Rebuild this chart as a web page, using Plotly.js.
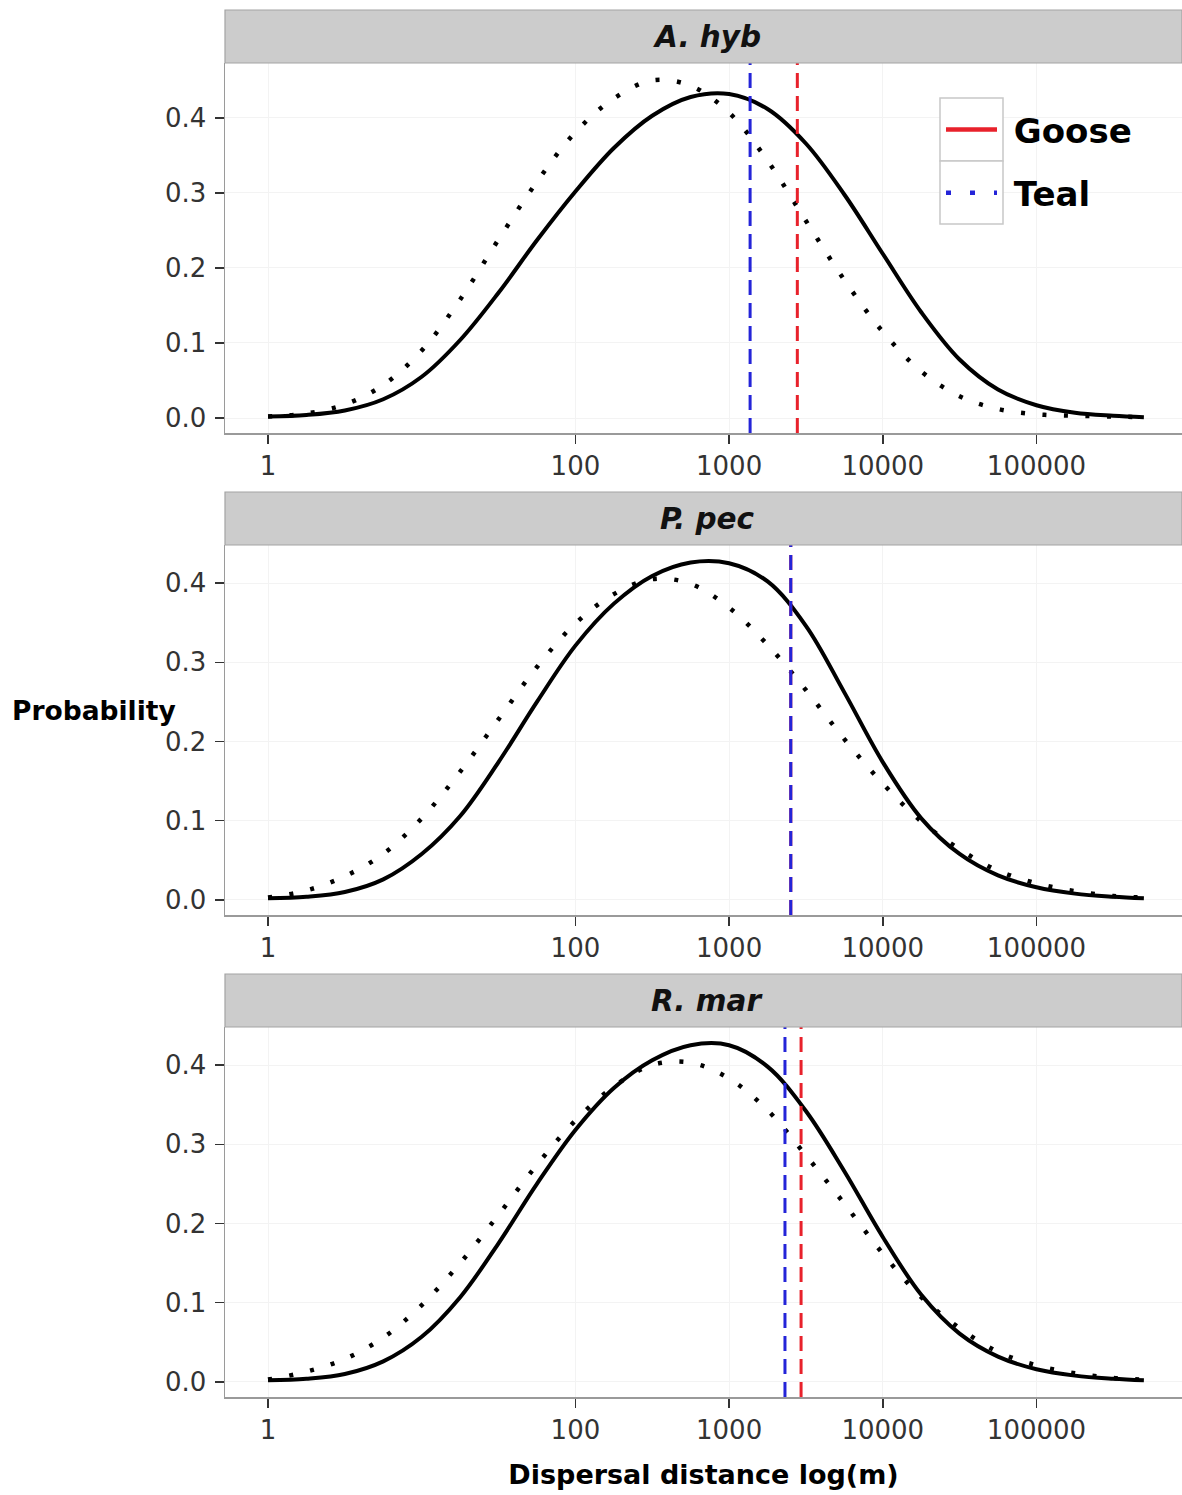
<!DOCTYPE html>
<html><head><meta charset="utf-8">
<script src="https://cdn.plot.ly/plotly-3.0.1.min.js"></script>
<style>html,body{margin:0;padding:0;background:#fff}#chart{width:1182px;height:1495px}</style>
</head><body><div id="chart"></div>
<script>
// ---- data ----
const species = ["A. hyb", "P. pec", "R. mar"];
const distance = [1, 1.78, 3.16, 5.62, 10, 17.8, 31.6, 56.2, 100, 178, 316, 562, 1000, 1780, 3160, 5620, 10000, 17800, 31600, 56200, 100000, 178000, 316000, 500000];
const gooseAhyb = [0.002,0.004,0.010,0.025,0.055,0.104,0.167,0.237,0.302,0.360,0.403,0.428,0.432,0.412,0.366,0.298,0.219,0.141,0.078,0.038,0.017,0.007,0.003,0.001];
const tealAhyb  = [0.002,0.006,0.018,0.044,0.090,0.158,0.238,0.315,0.381,0.426,0.450,0.443,0.407,0.343,0.263,0.184,0.115,0.062,0.029,0.012,0.005,0.003,0.002,0.001];
const goosePpec = [0.002,0.004,0.010,0.026,0.058,0.106,0.174,0.250,0.321,0.374,0.409,0.426,0.425,0.402,0.346,0.262,0.174,0.103,0.058,0.031,0.016,0.008,0.004,0.002];
const tealPpec  = [0.003,0.012,0.030,0.058,0.103,0.162,0.228,0.294,0.349,0.386,0.405,0.399,0.369,0.322,0.265,0.203,0.147,0.099,0.064,0.037,0.021,0.011,0.005,0.003];
const gooseRmar = [0.002,0.004,0.010,0.026,0.057,0.107,0.175,0.250,0.318,0.371,0.406,0.425,0.425,0.398,0.342,0.266,0.183,0.110,0.061,0.032,0.016,0.008,0.004,0.002];
const tealRmar  = [0.003,0.013,0.029,0.056,0.097,0.150,0.211,0.274,0.330,0.373,0.400,0.403,0.383,0.343,0.286,0.225,0.162,0.107,0.068,0.038,0.021,0.011,0.005,0.003];
const gooseLine = [2780, 2520, 2940];   // red dashed reference line per panel
const tealLine  = [1370, 2520, 2310];   // blue dashed reference line per panel
const xTickVals = [1, 100, 1000, 10000, 100000];
const xTickText = ["1", "100", "1000", "10000", "100000"];
const yTickVals = [0, 0.1, 0.2, 0.3, 0.4];
const yTickText = ["0.0", "0.1", "0.2", "0.3", "0.4"];

const gooseSeries = [gooseAhyb, goosePpec, gooseRmar];
const tealSeries = [tealAhyb, tealPpec, tealRmar];

// ---- layout geometry (pixels) ----
const W = 1182, H = 1495;
const mL = 225, mR = 0, mT = 63, mB = 98;
const plotH = H - mT - mB;
const panels = [ {top: 63, bot: 433, stripTop: 10}, {top: 545, bot: 915, stripTop: 492}, {top: 1027, bot: 1397, stripTop: 974} ];
const yRanges = [[-0.02, 0.4733], [-0.019, 0.448], [-0.019, 0.448]];
const py = v => (H - mB - v) / plotH;   // pixel y -> paper y
const px = v => (v - mL) / (W - mL - mR);
const FONT = "DejaVu Sans, Arial, sans-serif";
const RED = "#e8212b", BLUE = "#2424d8";

const traces = [];
const shapes = [];
const annotations = [];
const layout = {
  width: W, height: H,
  margin: {l: mL, r: mR, t: mT, b: mB, pad: 0},
  paper_bgcolor: "#ffffff", plot_bgcolor: "#ffffff",
  font: {family: FONT, color: "#333333"},
  showlegend: true,
  legend: {
    x: px(941), y: py(101), xanchor: "left", yanchor: "top",
    bgcolor: "rgba(0,0,0,0)", borderwidth: 0,
    font: {family: FONT, size: 34, color: "#000000", weight: "bold"},
    itemwidth: 51, traceorder: "grouped", tracegroupgap: 16
  }
};

panels.forEach((p, i) => {
  const n = i === 0 ? "" : String(i + 1);
  const xa = "x" + n, ya = "y" + n;
  layout["xaxis" + n] = {
    type: "log", range: [-0.28, 5.947], anchor: ya, domain: [0, 1],
    tickmode: "array", tickvals: xTickVals, ticktext: xTickText,
    ticks: "outside", ticklen: 9, tickwidth: 1.5, tickcolor: "#333333",
    tickfont: {family: FONT, size: 26, color: "#333333"},
    showline: true, linecolor: "#9a9a9a", linewidth: 1.5, mirror: false,
    showgrid: true, gridcolor: "#f3f3f3", gridwidth: 1, zeroline: false,
    fixedrange: true
  };
  layout["yaxis" + n] = {
    range: yRanges[i], anchor: xa, domain: [py(p.bot), py(p.top)],
    tickmode: "array", tickvals: yTickVals, ticktext: yTickText,
    ticks: "outside", ticklen: 9, tickwidth: 1.5, tickcolor: "#333333",
    tickfont: {family: FONT, size: 26, color: "#333333"}, ticklabelstandoff: 3,
    showline: true, linecolor: "#9a9a9a", linewidth: 1.5, mirror: false,
    showgrid: true, gridcolor: "#f3f3f3", gridwidth: 1, zeroline: false,
    fixedrange: true
  };
  // curves
  traces.push({
    type: "scatter", mode: "lines", x: distance, y: gooseSeries[i], xaxis: xa, yaxis: ya,
    line: {color: "#000000", width: 4, shape: "spline", smoothing: 1}, showlegend: false, hoverinfo: "skip"
  });
  traces.push({
    type: "scatter", mode: "lines", x: distance, y: tealSeries[i], xaxis: xa, yaxis: ya,
    line: {color: "#000000", width: 4.5, shape: "spline", smoothing: 1, dash: "4px,17.5px"}, showlegend: false, hoverinfo: "skip"
  });
  // reference lines
  shapes.push({type: "line", layer: "above", xref: xa, yref: ya + " domain", x0: gooseLine[i], x1: gooseLine[i], y0: 0, y1: 1,
    line: {color: RED, width: 3, dash: "15px,8px"}});
  shapes.push({type: "line", layer: "above", xref: xa, yref: ya + " domain", x0: tealLine[i], x1: tealLine[i], y0: 0, y1: 1,
    line: {color: BLUE, width: 3, dash: "15px,8px"}});
  // facet strip
  shapes.push({type: "rect", layer: "above", xref: "paper", yref: "paper", x0: 0, x1: 1, y0: py(p.top), y1: py(p.stripTop),
    fillcolor: "#cccccc", line: {color: "#a3a3a3", width: 1.2}});
  annotations.push({xref: "paper", yref: "paper", x: px(707), y: py((p.top + p.stripTop) / 2), xanchor: "center", yanchor: "middle",
    text: "<b><i>" + species[i] + "</i></b>", showarrow: false, font: {family: FONT, size: 29.5, color: "#111111"}});
});

// legend key boxes (ggplot-style)
shapes.push({type: "rect", layer: "above", xref: "paper", yref: "paper", x0: px(940), x1: px(1003), y0: py(161), y1: py(98),
  fillcolor: "#ffffff", line: {color: "#c8c8c8", width: 1.5}});
shapes.push({type: "rect", layer: "above", xref: "paper", yref: "paper", x0: px(940), x1: px(1003), y0: py(224), y1: py(161),
  fillcolor: "#ffffff", line: {color: "#c8c8c8", width: 1.5}});

// legend entries
traces.push({type: "scatter", mode: "lines", x: [null], y: [null], name: "\u00a0Goose", legendgroup: "goose",
  line: {color: RED, width: 4.5}, hoverinfo: "skip"});
traces.push({type: "scatter", mode: "lines", x: [null], y: [null], name: "\u00a0Teal", legendgroup: "teal",
  line: {color: BLUE, width: 4.5, dash: "5px,19px"}, hoverinfo: "skip"});

// axis titles
annotations.push({xref: "paper", yref: "paper", x: px(10), y: py(710), xanchor: "left", yanchor: "middle",
  text: "<b>Probability</b>", showarrow: false, font: {family: FONT, size: 26.5, color: "#000000"}});
layout.xaxis3.title = {text: "<b>Dispersal distance log(m)</b>", font: {family: FONT, size: 27, color: "#000000"}, standoff: 21};

layout.shapes = shapes;
layout.annotations = annotations;

Plotly.newPlot("chart", traces, layout, {displayModeBar: false, staticPlot: true});
</script>
</body></html>
